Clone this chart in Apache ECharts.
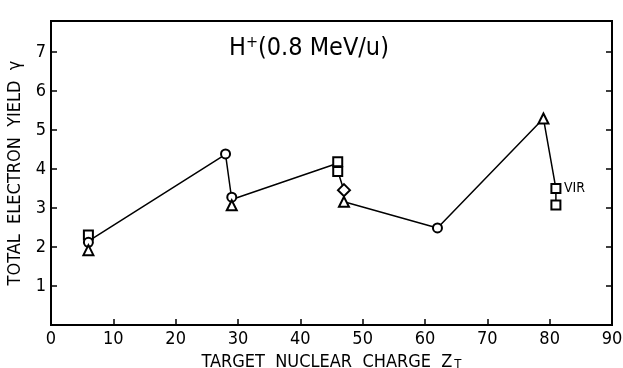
<!DOCTYPE html>
<html>
<head>
<meta charset="utf-8">
<script src="https://cdn.jsdelivr.net/npm/echarts@6/dist/echarts.min.js"></script>
<style>
  html, body { margin: 0; padding: 0; background: #fff; }
  #main { width: 623px; height: 368px; }
</style>
</head>
<body>
<div id="main"></div>
<script>
// 折线经过的点 (Z_T, γ)
var linePts = [[6, 2.15], [28, 4.38], [29, 3.22], [46, 4.15], [46, 3.95], [47, 3.45], [47, 3.16], [62, 2.49], [79, 5.3], [81, 3.5], [81, 3.08]];
// 各种符号的测量点
var squarePts = [[6, 2.31], [46, 4.19], [46, 3.94], [81, 3.5], [81, 3.08]];
var circlePts = [[6, 2.12], [28, 4.39], [29, 3.28], [62, 2.49]];
var trianglePts = [[6, 1.92], [29, 3.07], [47, 3.16], [79, 5.3]];
var diamondPts = [[47, 3.46]];
var xTicks = [0, 10, 20, 30, 40, 50, 60, 70, 80, 90];
var yTicks = [1, 2, 3, 4, 5, 6, 7];

var font = "'DejaVu Sans Condensed', 'DejaVu Sans', sans-serif";
var myChart = echarts.init(document.getElementById('main'));

function markerSeries(data, symbol, size) {
    return {
        type: 'scatter',
        data: data,
        symbol: symbol,
        symbolSize: size,
        itemStyle: { color: '#fff', borderColor: '#000', borderWidth: 2, opacity: 1 },
        z: 3
    };
}

var option = {
    animation: false,
    backgroundColor: '#fff',
    title: {
        text: '{b|H}{s|+}{b|(0.8 MeV/u)}',
        left: 224,
        top: 30,
        textStyle: {
            fontWeight: 'normal',
            rich: {
                b: { fontFamily: font, fontSize: 25, fontWeight: 'normal', color: '#000' },
                s: { fontFamily: font, fontSize: 16, fontWeight: 'normal', color: '#000', verticalAlign: 'top', padding: [0, 0, 10, 0] }
            }
        }
    },
    grid: {
        left: 51, right: 11, top: 21, bottom: 43,
        outerBoundsMode: 'none',
        containLabel: false,
        show: true, borderColor: '#000', borderWidth: 2
    },
    xAxis: {
        type: 'value', min: 0, max: 90, interval: 10,
        name: '{t|TARGET  NUCLEAR  CHARGE  Z}{s|T}',
        nameLocation: 'middle', nameGap: 18,
        nameTextStyle: {
            rich: {
                t: { fontFamily: font, fontSize: 18, color: '#000' },
                s: { fontFamily: font, fontSize: 13, color: '#000', verticalAlign: 'bottom', padding: [6, 0, 0, 2] }
            }
        },
        axisLine: { lineStyle: { color: '#000', width: 2 } },
        axisTick: { inside: true, length: 6, lineStyle: { color: '#000', width: 1.5 } },
        axisLabel: {
            fontFamily: font, fontSize: 18, color: '#000', margin: 5,
            formatter: function (v) { return xTicks.indexOf(v) >= 0 ? v : ''; }
        },
        splitLine: { show: false }
    },
    yAxis: [{
        type: 'value', min: 0, max: 7.8, interval: 1,
        name: 'TOTAL  ELECTRON  YIELD  γ',
        nameLocation: 'middle', nameGap: 26, nameRotate: 90,
        nameTextStyle: { fontFamily: font, fontSize: 18, color: '#000' },
        axisLine: { lineStyle: { color: '#000', width: 2 } },
        axisTick: { inside: true, length: 6, lineStyle: { color: '#000', width: 1.5 } },
        axisLabel: {
            fontFamily: font, fontSize: 18, color: '#000', margin: 5,
            showMaxLabel: false,
            formatter: function (v) { return yTicks.indexOf(v) >= 0 ? v : ''; }
        },
        splitLine: { show: false }
    }, {
        type: 'value', min: 0, max: 7.8, interval: 1, position: 'right',
        axisLine: { show: true, lineStyle: { color: '#000', width: 2 } },
        axisTick: { inside: true, length: 6, lineStyle: { color: '#000', width: 1.5 } },
        axisLabel: { show: false },
        splitLine: { show: false }
    }],
    series: [
        {
            type: 'line',
            data: linePts,
            symbol: 'none',
            lineStyle: { color: '#000', width: 1.5 },
            z: 2
        },
        markerSeries(squarePts, 'rect', 9),
        markerSeries(circlePts, 'circle', 9),
        markerSeries(trianglePts, 'triangle', 10),
        markerSeries(diamondPts, 'diamond', 12),
        {
            type: 'scatter',
            data: [[81, 3.5]],
            symbolSize: 0,
            itemStyle: { opacity: 1 },
            label: {
                show: true, position: 'right', distance: 8,
                formatter: 'VIR',
                fontFamily: font, fontSize: 14, color: '#000'
            }
        }
    ]
};

myChart.setOption(option);
</script>
</body>
</html>
